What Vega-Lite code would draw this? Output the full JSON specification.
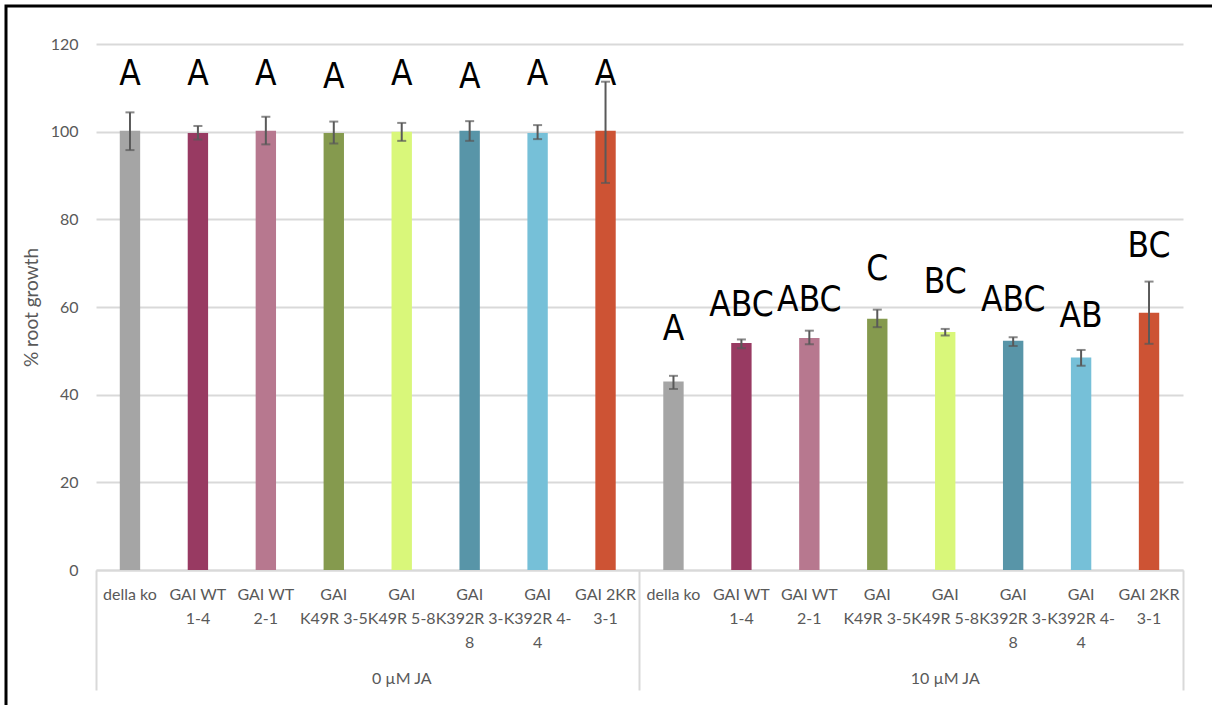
{
  "$schema": "https://vega.github.io/schema/vega-lite/v6.json",
  "width": 1216,
  "height": 709,
  "autosize": "none",
  "padding": {"left": 6, "top": 6, "right": -10, "bottom": -10},
  "background": "white",
  "config": {
    "view": {"stroke": "black", "strokeWidth": 3},
    "axis": {"labelFont": "Lato", "titleFont": "Lato", "titleFontSize": 19, "titleColor": "#595959", "titleFontWeight": "normal"}
  },
  "data": {
    "values": [
      {"key": "0 µM JA|della ko", "geno": "della ko", "value": 100.2, "lo": 95.8, "hi": 104.4, "letter": "A", "ly": 113.2},
      {"key": "0 µM JA|GAI WT|1-4", "geno": "GAI WT 1-4", "value": 99.7, "lo": 98.2, "hi": 101.3, "letter": "A", "ly": 113.2},
      {"key": "0 µM JA|GAI WT|2-1", "geno": "GAI WT 2-1", "value": 100.2, "lo": 97.1, "hi": 103.4, "letter": "A", "ly": 113.2},
      {"key": "0 µM JA|GAI|K49R 3-5", "geno": "GAI K49R 3-5", "value": 99.7, "lo": 97.3, "hi": 102.3, "letter": "A", "ly": 112.5},
      {"key": "0 µM JA|GAI|K49R 5-8", "geno": "GAI K49R 5-8", "value": 100.0, "lo": 97.9, "hi": 102.0, "letter": "A", "ly": 113.2},
      {"key": "0 µM JA|GAI|K392R 3-|8", "geno": "GAI K392R 3-8", "value": 100.2, "lo": 97.9, "hi": 102.4, "letter": "A", "ly": 112.5},
      {"key": "0 µM JA|GAI|K392R 4-|4", "geno": "GAI K392R 4-4", "value": 99.7, "lo": 98.3, "hi": 101.5, "letter": "A", "ly": 113.2},
      {"key": "0 µM JA|GAI 2KR|3-1", "geno": "GAI 2KR 3-1", "value": 100.2, "lo": 88.3, "hi": 111.4, "letter": "A", "ly": 113.2},
      {"key": "10 µM JA|della ko", "geno": "della ko", "value": 43.0, "lo": 41.3, "hi": 44.3, "letter": "A", "ly": 55.0},
      {"key": "10 µM JA|GAI WT|1-4", "geno": "GAI WT 1-4", "value": 51.8, "lo": 50.6, "hi": 52.6, "letter": "ABC", "ly": 60.5},
      {"key": "10 µM JA|GAI WT|2-1", "geno": "GAI WT 2-1", "value": 52.9, "lo": 51.5, "hi": 54.6, "letter": "ABC", "ly": 61.6},
      {"key": "10 µM JA|GAI|K49R 3-5", "geno": "GAI K49R 3-5", "value": 57.3, "lo": 55.4, "hi": 59.4, "letter": "C", "ly": 68.7},
      {"key": "10 µM JA|GAI|K49R 5-8", "geno": "GAI K49R 5-8", "value": 54.3, "lo": 53.5, "hi": 55.0, "letter": "BC", "ly": 65.6},
      {"key": "10 µM JA|GAI|K392R 3-|8", "geno": "GAI K392R 3-8", "value": 52.3, "lo": 51.1, "hi": 53.1, "letter": "ABC", "ly": 61.6},
      {"key": "10 µM JA|GAI|K392R 4-|4", "geno": "GAI K392R 4-4", "value": 48.5, "lo": 46.6, "hi": 50.2, "letter": "AB", "ly": 58.0},
      {"key": "10 µM JA|GAI 2KR|3-1", "geno": "GAI 2KR 3-1", "value": 58.7, "lo": 51.6, "hi": 65.8, "letter": "BC", "ly": 74.0}
    ]
  },
  "layer": [
    {
      "mark": {"type": "bar", "width": {"band": 0.3}},
      "encoding": {
        "x": {
          "field": "key", "type": "nominal", "sort": null,
          "scale": {"paddingInner": 0, "paddingOuter": 0, "range": [90, 1177]},
          "axis": {
            "orient": "bottom", "offset": -145, "title": null,
            "domain": true, "domainColor": "#d9d9d9", "domainWidth": 2,
            "ticks": false, "labelAngle": 0, "labelPadding": 16,
            "labelExpr": "slice(split(datum.value, '|'), 1)",
            "labelFontSize": 16, "labelColor": "#595959", "labelLineHeight": 24,
            "labelBaseline": "top", "labelOverlap": false, "labelBound": false, "labelLimit": 0
          }
        },
        "y": {
          "field": "value", "type": "quantitative",
          "title": "% root growth",
          "scale": {"domain": [0, 120], "nice": false, "range": [564, 38]},
          "axis": {
            "orient": "left", "offset": -90, "values": [0, 20, 40, 60, 80, 100, 120],
            "ticks": false, "domain": false, "grid": true, "gridColor": "#d9d9d9", "gridWidth": 2,
            "labelFontSize": 16, "labelColor": "#595959", "labelPadding": 18,
            "titleFontSize": 19, "titleColor": "#595959", "titleFontWeight": "normal", "titlePadding": 9, "titleLimit": 0
          }
        },
        "color": {
          "field": "geno", "type": "nominal", "legend": null,
          "scale": {
            "domain": ["della ko", "GAI WT 1-4", "GAI WT 2-1", "GAI K49R 3-5", "GAI K49R 5-8", "GAI K392R 3-8", "GAI K392R 4-4", "GAI 2KR 3-1"],
            "range": ["#a5a5a5", "#983a62", "#b7788f", "#859a4e", "#d9f77a", "#5895a8", "#76c0d8", "#cd5334"]
          }
        }
      }
    },
    {
      "mark": {"type": "rule", "color": "#595959", "strokeWidth": 2},
      "encoding": {
        "x": {
          "field": "key", "type": "nominal", "sort": null,
          "axis": {
            "orient": "bottom", "offset": -145, "title": null, "domain": false,
            "bandPosition": 0,
            "values": ["0 µM JA|della ko", "0 µM JA|GAI|K49R 5-8", "10 µM JA|della ko", "10 µM JA|GAI|K49R 5-8"],
            "ticks": true, "tickSize": 120, "tickColor": "#d9d9d9", "tickWidth": 2,
            "tickOpacity": {"condition": {"test": "indexof(datum.value, 'della ko') >= 0", "value": 1}, "value": 0},
            "labelExpr": "indexof(datum.value, 'K49R 5-8') >= 0 ? split(datum.value, '|')[0] : ''",
            "labelAngle": 0, "labelPadding": -20, "labelBaseline": "top",
            "labelFontSize": 16, "labelColor": "#595959", "labelOverlap": false, "labelBound": false
          }
        },
        "y": {"field": "lo", "type": "quantitative", "axis": null},
        "y2": {"field": "hi"}
      }
    },
    {
      "mark": {"type": "tick", "color": "#595959", "size": 9, "thickness": 2},
      "encoding": {
        "x": {"field": "key", "type": "nominal", "sort": null, "axis": null},
        "y": {"field": "lo", "type": "quantitative", "axis": null}
      }
    },
    {
      "mark": {"type": "tick", "color": "#595959", "size": 9, "thickness": 2},
      "encoding": {
        "x": {"field": "key", "type": "nominal", "sort": null, "axis": null},
        "y": {"field": "hi", "type": "quantitative", "axis": null}
      }
    },
    {
      "mark": {"type": "text", "font": "'DejaVu Sans Condensed', 'Liberation Sans Narrow', Lato, sans-serif", "fontSize": 35, "color": "black", "baseline": "middle", "align": "center"},
      "encoding": {
        "x": {
          "field": "key", "type": "nominal", "sort": null,
          "axis": {
            "orient": "bottom", "offset": -145, "title": null, "domain": false, "labels": false,
            "bandPosition": 1, "values": ["10 µM JA|GAI 2KR|3-1"],
            "ticks": true, "tickSize": 120, "tickColor": "#d9d9d9", "tickWidth": 2
          }
        },
        "y": {"field": "ly", "type": "quantitative", "axis": null},
        "text": {"field": "letter"}
      }
    }
  ],
  "resolve": {"axis": {"x": "independent", "y": "independent"}}
}
